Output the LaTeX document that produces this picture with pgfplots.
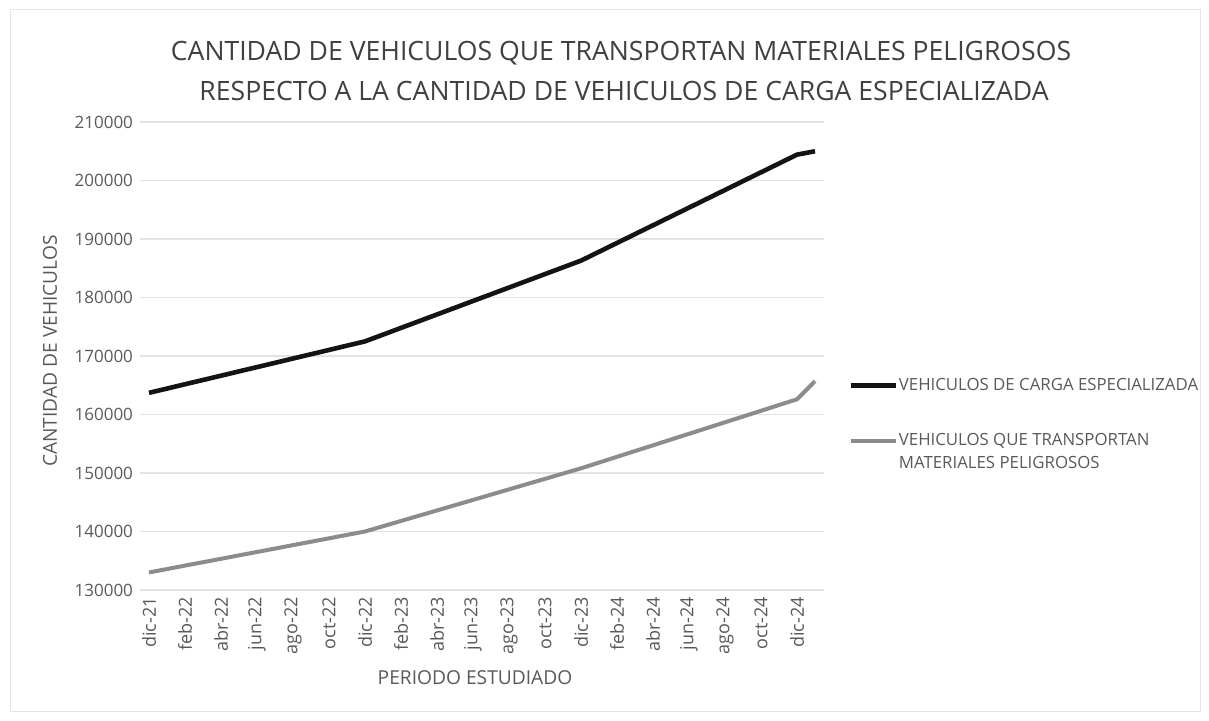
\documentclass[border=0pt]{standalone}
\usepackage{pgfplots}
\usepackage{pgfplotstable}
\pgfplotsset{compat=1.18}
\usepackage{fontspec}
\setmainfont{Open Sans}
\definecolor{txt}{HTML}{595959}
\definecolor{ttl}{HTML}{404040}
\definecolor{gridc}{HTML}{E2E2E2}
\definecolor{serA}{HTML}{141414}
\definecolor{serB}{HTML}{8C8C8C}
\pgfplotsset{shiftedlegend/.style={legend image code/.code={\path (0pt,-5.75pt); \draw[##1] (0pt,5.75pt) -- (22.5pt,5.75pt);}}}

\pgfplotstableread{
m carga peligro
0 163700 133000
1 164430 133580
2 165170 134170
3 165900 134750
4 166630 135330
5 167370 135920
6 168100 136500
7 168830 137080
8 169570 137670
9 170300 138250
10 171030 138830
11 171770 139420
12 172500 140000
13 173650 140900
14 174800 141800
15 175950 142700
16 177100 143600
17 178250 144500
18 179400 145400
19 180550 146300
20 181700 147200
21 182850 148100
22 184000 149000
23 185150 149900
24 186300 150800
25 187810 151780
26 189320 152770
27 190830 153750
28 192340 154730
29 193850 155720
30 195360 156700
31 196870 157680
32 198380 158670
33 199890 159650
34 201400 160630
35 202910 161620
36 204420 162600
37 205000 165700
}\datatable

\begin{document}
\begin{tikzpicture}[x=1pt,y=1pt]
\useasboundingbox (0,0) rectangle (604.5,360.5);
\draw[black!10] (5,5) rectangle (600,356);
\node[font=\fontsize{13.3}{15}\selectfont, text=ttl] at (310.5,334) {CANTIDAD DE VEHICULOS QUE TRANSPORTAN MATERIALES PELIGROSOS};
\node[font=\fontsize{13.3}{15}\selectfont, text=ttl] at (312,315) {RESPECTO A LA CANTIDAD DE VEHICULOS DE CARGA ESPECIALIZADA};
\node[font=\fontsize{9.6}{11}\selectfont, text=txt, rotate=90] at (25,185) {CANTIDAD DE VEHICULOS};
\node[font=\fontsize{9.6}{11}\selectfont, text=txt] at (237.5,21.5) {PERIODO ESTUDIADO};
\begin{axis}[
  scale only axis, width=342pt, height=234pt,
  at={(70pt,65.5pt)}, anchor=south west,
  xmin=-0.5, xmax=37.5, ymin=130000, ymax=210000,
  ytick={130000,140000,...,210000},
  xtick={0,2,...,36},
  xticklabels={dic-21,feb-22,abr-22,jun-22,ago-22,oct-22,dic-22,feb-23,abr-23,jun-23,ago-23,oct-23,dic-23,feb-24,abr-24,jun-24,ago-24,oct-24,dic-24},
  x tick label style={rotate=90, anchor=east, font=\fontsize{9}{10}\selectfont, text=txt},
  y tick label style={font=\fontsize{8.5}{10}\selectfont, text=txt},
  /pgf/number format/assume math mode=true,
  scaled y ticks=false,
  yticklabel={\pgfmathprintnumber[fixed,1000 sep={}]{\tick}},
  major tick length=0pt,
  axis line style={draw=none},
  ymajorgrids, grid style={gridc, line width=0.7pt},
  legend style={at={(axis description cs:1.035,0.462)}, anchor=north west, draw=none, fill=none,
    font=\fontsize{8.4}{11.5}\selectfont, text=txt, row sep=16pt, cells={align=left}, inner sep=0pt,
    nodes={inner xsep=0.5pt}},
  legend cell align=left,
  legend image code/.code={\draw[#1] (0pt,0pt) -- (22.5pt,0pt);},
]
\addplot[serA, line width=2.3pt, no markers] table[x=m, y=carga] {\datatable};
\addlegendentry{VEHICULOS DE CARGA ESPECIALIZADA}
\addplot[serB, line width=2pt, no markers, shiftedlegend] table[x=m, y=peligro] {\datatable};
\addlegendentry{VEHICULOS QUE TRANSPORTAN\\MATERIALES PELIGROSOS}
\end{axis}
\end{tikzpicture}
\end{document}
